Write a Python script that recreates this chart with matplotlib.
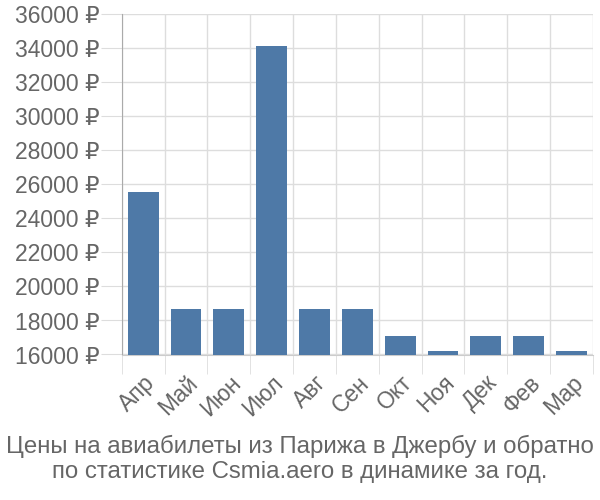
import matplotlib
matplotlib.use('Agg')
import numpy as np
import matplotlib.pyplot as plt

# monthly prices, rubles
months = ['Апр', 'Май', 'Июн', 'Июл', 'Авг', 'Сен', 'Окт', 'Ноя', 'Дек', 'Фев', 'Мар']
prices = [25560, 18660, 18660, 34150, 18660, 18660, 17090, 16190, 17090, 17090, 16190]
yticks = list(range(16000, 36001, 2000))

plt.rcParams['font.family'] = ['Liberation Sans', 'DejaVu Sans']
grey = '#666666'
grid = '#dddddd'

fig = plt.figure(figsize=(6, 5), dpi=100)
ax = fig.add_axes([0.203, 0.291, 0.785, 0.68])

x = np.arange(len(months))
ax.bar(x, prices, width=0.72, color='#4e79a7', zorder=3)

ax.set_xlim(-0.5, len(months) - 0.5)
ax.set_ylim(16000, 36000)

ax.set_yticks(yticks)
ax.set_yticklabels(['%d ₽' % v for v in yticks], color=grey, fontsize=16.5)
ax.tick_params(axis='y', length=15, color=grid, pad=1)

# category labels at centres, grid/tick marks at boundaries
ax.set_xticks(x)
ax.set_xticklabels(months, rotation=45, ha='right', va='top', rotation_mode='anchor',
                   color=grey, fontsize=16.5)
ax.tick_params(axis='x', length=0, pad=12)
ax.set_xticks(np.arange(-0.5, len(months)), minor=True)
ax.tick_params(axis='x', which='minor', length=14, color=grid)

ax.grid(True, axis='y', color=grid, linewidth=1, zorder=0)
ax.grid(True, axis='x', which='minor', color=grid, linewidth=1, zorder=0)

for s in ['top', 'right']:
    ax.spines[s].set_visible(False)
ax.spines['left'].set_color('#aaaaaa')
ax.spines['bottom'].set_color('#cccccc')

fig.text(0.5, 0.082, 'Цены на авиабилеты из Парижа в Джербу и обратно\nпо статистике Csmia.aero в динамике за год.',
         ha='center', va='center', color=grey, fontsize=17.3, linespacing=1.13)

fig.savefig('out.png', dpi=100)
